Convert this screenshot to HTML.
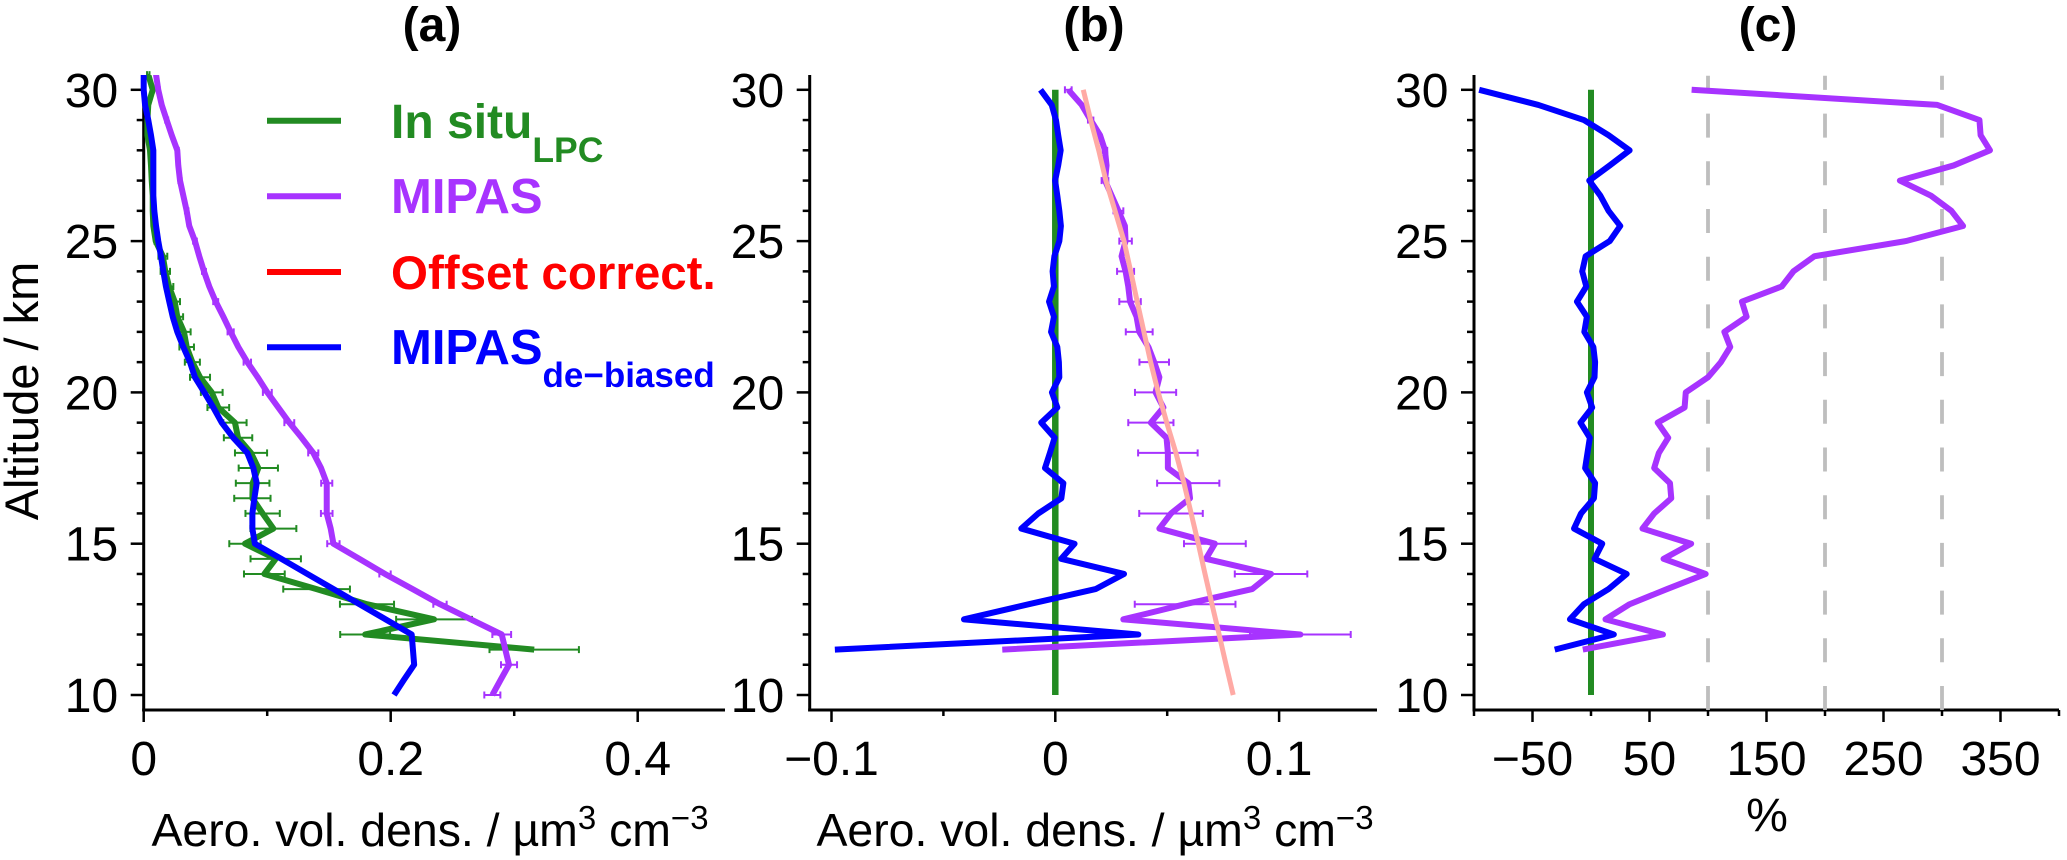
<!DOCTYPE html>
<html lang="en">
<head>
<meta charset="utf-8">
<title>Aerosol volume density profiles</title>
<style>
html,body{margin:0;padding:0;background:#fff;}
svg{display:block;font-family:"Liberation Sans",Arial,sans-serif;}
text{fill:#000;}
</style>
</head>
<body>
<svg id="chart" xmlns="http://www.w3.org/2000/svg" width="2067" height="860" viewBox="0 0 2067 860">
  <defs>
    <clipPath id="plot-clip"><rect x="130" y="75" width="1950" height="640"/></clipPath>
  </defs>
  <rect width="2067" height="860" fill="#fff"/>
  <text x="432" y="41" font-size="48" font-weight="bold" text-anchor="middle">(a)</text>
  <text x="1094" y="41" font-size="48" font-weight="bold" text-anchor="middle">(b)</text>
  <text x="1768" y="41" font-size="48" font-weight="bold" text-anchor="middle">(c)</text>
  <text transform="translate(38,391) rotate(-90)" font-size="47" text-anchor="middle">Altitude / km</text>
  <text x="430" y="846" font-size="46.4" text-anchor="middle">Aero. vol. dens. / µm<tspan font-size="33" dy="-17">3</tspan><tspan dy="17"> cm</tspan><tspan font-size="33" dy="-17">−3</tspan></text>
  <text x="1095" y="846" font-size="46.4" text-anchor="middle">Aero. vol. dens. / µm<tspan font-size="33" dy="-17">3</tspan><tspan dy="17"> cm</tspan><tspan font-size="33" dy="-17">−3</tspan></text>
  <text x="1767" y="831" font-size="47" text-anchor="middle">%</text>
  <g id="marks"></g>
  <g>
    <line x1="267" x2="341" y1="120.7" y2="120.7" stroke="#228b22" stroke-width="6"/>
    <line x1="267" x2="341" y1="196.3" y2="196.3" stroke="#a733ff" stroke-width="6"/>
    <line x1="267" x2="341" y1="272" y2="272" stroke="#ff0000" stroke-width="6"/>
    <line x1="267" x2="341" y1="347.3" y2="347.3" stroke="#0000ff" stroke-width="6"/>
    <text x="391" y="138" font-size="48" font-weight="bold" style="fill:#228b22">In situ<tspan font-size="35.5" dy="24">LPC</tspan></text>
    <text x="391" y="213" font-size="49" font-weight="bold" style="fill:#a733ff">MIPAS</text>
    <text x="391" y="289" font-size="47.5" font-weight="bold" style="fill:#ff0000">Offset correct.</text>
    <text x="391" y="364" font-size="49" font-weight="bold" style="fill:#0000ff">MIPAS<tspan font-size="35" dy="23">de−biased</tspan></text>
  </g>
</svg>
<script>
// Altitude levels (km) shared by all series; panel (a) starts at 30.5, panels (b) and (c) at 30.
const altitudes = [30.5,30,29.5,29,28.5,28,27.5,27,26.5,26,25.5,25,24.5,24,23.5,23,22.5,22,21.5,21,20.5,20,19.5,19,18.5,18,17.5,17,16.5,16,15.5,15,14.5,14,13.5,13,12.5,12,11.5,11,10.5,10];
const errorBarAltitudes = [30,29,28,27,26,25,24,23,22,21,20,19,18,17,16,15,14,13,12,11,10];

// Panel (a): aerosol volume density, from 30.5 km downward
const inSituA = [.0037,.0073,.0037,.003,.003,.0051,.0059,.0065,.0073,.0073,.0078,.0097,.0155,.0175,.0205,.0251,.0272,.0326,.0348,.0394,.0456,.0551,.0604,.0739,.0764,.0869,.0928,.0882,.088,.0963,.105,.082,.1069,.0977,.14,.1808,.2351,.1793,.3162];
const inSituAErr = [.001,.001,.001,.001,.001,.001,.001,.001,.001,.001,.001,.001,.0036,.0038,.0035,.0043,.0047,.0054,.0059,.0061,.0081,.0088,.0088,.0094,.0115,.013,.0159,.0136,.0147,.0139,.0186,.0127,.0204,.0165,.027,.0219,.0307,.0202,.0362];
const mipasA = [.01,.0118,.0146,.0186,.0227,.0272,.028,.0294,.0321,.0348,.0369,.0415,.045,.0488,.0531,.0583,.0645,.0704,.0766,.0839,.0923,.1001,.109,.1179,.1279,.1373,.1436,.1482,.1482,.1482,.1514,.1536,.1746,.1954,.2178,.2399,.2648,.2899,.2928,.2958,.289,.2823];
const mipasAErr = [.0012,.0012,.0012,.0013,.0014,.0015,.0016,.002,.0025,.003,.0036,.004,.0041,.0045,.0047,.005,.0046,.0054,.0076,.0065,.0065];
const debiasedA = [0,0,.0011,.0037,.0059,.0078,.0078,.0078,.0078,.0086,.01,.0118,.014,.0159,.018,.0207,.0235,.0272,.0321,.0375,.0415,.0491,.0564,.0632,.0726,.0839,.0888,.0915,.0896,.088,.088,.09,.1114,.1325,.1537,.1748,.1959,.217,.218,.219,.2107,.2027];

// Panel (b): absolute differences, from 30 km downward
const inSituB = [0,0];
const inSituBAlt = [30,10];
const mipasB = [.0058,.0118,.0158,.02,.0222,.0229,.0222,.0252,.0282,.0311,.0314,.0296,.0314,.0326,.0334,.0363,.0375,.0416,.0442,.0465,.0448,.0483,.0427,.0497,.0503,.0503,.0594,.0602,.0517,.0465,.0713,.0673,.0964,.088,.058,.0304,.1095,-.0237];
const mipasBErr = [.0015,.0012,.001,.0015,.0022,.0028,.0038,.0048,.006,.0066,.0092,.0101,.0133,.0139,.0142,.0138,.0162,.0225,.0225];
const debiasedB = [-.0066,-.0016,.0003,.0013,.0024,.0013,-.0001,.0009,.0018,.0025,.0018,-.0004,-.0012,-.0006,-.0028,-.0006,-.0019,.0009,.0016,.0018,-.0015,.0009,-.0063,-.0003,-.0024,-.0046,.0036,.0027,-.0076,-.0152,.0086,.0026,.0307,.018,-.0118,-.0408,.0371,-.0985];
const offsetCorrection = [.0125,.0158,.0194,.0226,.0267,.0307,.0337,.0366,.0396,.0426,.046,.0498,.0539,.0575,.0607,.0639,.0669,.07,.0732,.0763,.0795];

// Panel (c): relative differences (%), from 30 km downward
const inSituC = [0,0];
const inSituCAlt = [30,10];
const referenceLinesC = [100,200,300];
const mipasC = [86,296,332,333,341,310,264,290.6,308,318,269,191,173,163,129,133,114,119,111,100,81,80,57,66,58,54,67.5,68.6,54,44,85.6,62,98,65,33,12.4,61.5,-7];
const debiasedC = [-95.6,-45,-6,15,33,16,-1.5,8,15,25,16,-4.6,-7.5,-4,-12,-3.5,-5.7,2,3.5,3,-3.5,1,-9,-1,-3,-5,3.5,2.5,-8.5,-14.5,9.6,3,30.5,15,-6,-18,19.5,-31];

// Axis ticks and labels
const altitudeMajorTicks = [10,15,20,25,30];
const altitudeMinorTicks = [11,12,13,14,16,17,18,19,21,22,23,24,26,27,28,29];
const xTicksA = [0,.1,.2,.3,.4];
const xTickLabelsA = ['0',null,'0.2',null,'0.4'];
const xTicksB = [-.1,-.05,0,.05,.1];
const xTickLabelsB = ['−0.1',null,'0',null,'0.1'];
const xTicksC = [-100,-50,0,50,100,150,200,250,300,350,400];
const xTickLabelsC = [null,'−50',null,'50',null,'150',null,'250',null,'350',null];

const NS = 'http://www.w3.org/2000/svg';
const marks = document.getElementById('marks');
const AXIS_TOP = 75, AXIS_BOTTOM = 710;
const COLORS = {green:'#228b22', purple:'#a733ff', blue:'#0000ff', pink:'#ffaaa5', gray:'#bebebe'};

const yAlt = z => 695 - (z - 10) * 30.26;
const xA = v => 143.7 + v * 1235;
const xB = v => 1055.3 + v * 2238;
const xC = v => 1591 + v * 1.17;

function make(tag, name, attrs, parent) {
  const el = document.createElementNS(NS, tag);
  
  
  for (const k in attrs) el.setAttribute(k, attrs[k]);
  (parent || marks).appendChild(el);
  return el;
}
function seriesLine(name, xFn, values, alts, color, width) {
  const pts = values.map((v, i) => xFn(v).toFixed(2) + ',' + yAlt(alts[i]).toFixed(2)).join(' ');
  make('polyline', name, {points: pts, fill: 'none', stroke: color, 'stroke-width': width, 'stroke-linejoin': 'round', 'stroke-linecap': 'butt', 'clip-path': 'url(#plot-clip)'});
}
function errorBar(name, xFn, center, err, z, color) {
  const g = make('g', name, {stroke: color, 'stroke-width': 2, fill: 'none'});
  const y = yAlt(z), a = xFn(center - err), b = xFn(center + err);
  make('line', name + '-span', {x1: a, x2: b, y1: y, y2: y}, g);
  make('line', name + '-cap-low', {x1: a, x2: a, y1: y - 3.5, y2: y + 3.5}, g);
  make('line', name + '-cap-high', {x1: b, x2: b, y1: y - 3.5, y2: y + 3.5}, g);
}
function drawAxes(id, xFn, left, right, ticks, labels) {
  const g = make('g', id + '-axes', {stroke: '#000', fill: 'none'});
  make('line', id + '-y-axis', {x1: left, x2: left, y1: AXIS_TOP, y2: AXIS_BOTTOM + 1.5, 'stroke-width': 3}, g);
  make('line', id + '-x-axis', {x1: left - 1.5, x2: right, y1: AXIS_BOTTOM, y2: AXIS_BOTTOM, 'stroke-width': 3}, g);
  altitudeMajorTicks.forEach(z => {
    make('line', id + '-y-tick-major', {x1: left - 13, x2: left, y1: yAlt(z), y2: yAlt(z), 'stroke-width': 2.5}, g);
    const t = make('text', id + '-y-tick-label', {x: left - 25.5, y: yAlt(z) + 17, 'font-size': 48, 'text-anchor': 'end', stroke: 'none'});
    t.textContent = String(z);
  });
  altitudeMinorTicks.forEach(z => {
    make('line', id + '-y-tick-minor', {x1: left - 7, x2: left, y1: yAlt(z), y2: yAlt(z), 'stroke-width': 2.5}, g);
  });
  ticks.forEach((v, i) => {
    const x = xFn(v), lab = labels[i];
    make('line', id + '-x-tick', {x1: x, x2: x, y1: AXIS_BOTTOM, y2: AXIS_BOTTOM + (lab ? 12 : 6), 'stroke-width': 2.5}, g);
    if (lab) {
      const t = make('text', id + '-x-tick-label', {x: x, y: 775, 'font-size': 48, 'text-anchor': 'middle', stroke: 'none'});
      t.textContent = lab;
    }
  });
}

const altsFrom30 = altitudes.slice(1);
const altAt = (series, alts, z) => series[alts.indexOf(z)];

// Panel (a)
drawAxes('panel-a', xA, 143.7, 725, xTicksA, xTickLabelsA);
inSituA.forEach((v, i) => errorBar('panel-a-in-situ-error-bar', xA, v, inSituAErr[i], altitudes[i], COLORS.green));
errorBarAltitudes.forEach((z, i) => errorBar('panel-a-mipas-error-bar', xA, altAt(mipasA, altitudes, z), mipasAErr[i], z, COLORS.purple));
seriesLine('panel-a-in-situ-line', xA, inSituA, altitudes, COLORS.green, 6);
seriesLine('panel-a-mipas-line', xA, mipasA, altitudes, COLORS.purple, 6);
seriesLine('panel-a-mipas-de-biased-line', xA, debiasedA, altitudes, COLORS.blue, 6);

// Panel (b)
drawAxes('panel-b', xB, 809.7, 1377, xTicksB, xTickLabelsB);
mipasBErr.forEach((e, i) => errorBar('panel-b-mipas-error-bar', xB, altAt(mipasB, altsFrom30, errorBarAltitudes[i]), e, errorBarAltitudes[i], COLORS.purple));
seriesLine('panel-b-in-situ-line', xB, inSituB, inSituBAlt, COLORS.green, 6.5);
seriesLine('panel-b-mipas-line', xB, mipasB, altsFrom30, COLORS.purple, 6);
seriesLine('panel-b-offset-correction-line', xB, offsetCorrection, errorBarAltitudes, COLORS.pink, 5);
seriesLine('panel-b-mipas-de-biased-line', xB, debiasedB, altsFrom30, COLORS.blue, 6);

// Panel (c)
drawAxes('panel-c', xC, 1474, 2059, xTicksC, xTickLabelsC);
referenceLinesC.forEach(v => {
  make('line', 'panel-c-reference-line', {x1: xC(v), x2: xC(v), y1: AXIS_BOTTOM, y2: AXIS_TOP + 0.7, stroke: COLORS.gray, 'stroke-width': 3.8, 'stroke-dasharray': '24 23.7'});
});
seriesLine('panel-c-in-situ-line', xC, inSituC, inSituCAlt, COLORS.green, 6);
seriesLine('panel-c-mipas-line', xC, mipasC, altsFrom30, COLORS.purple, 6);
seriesLine('panel-c-mipas-de-biased-line', xC, debiasedC, altsFrom30, COLORS.blue, 6);
</script>
</body>
</html>
